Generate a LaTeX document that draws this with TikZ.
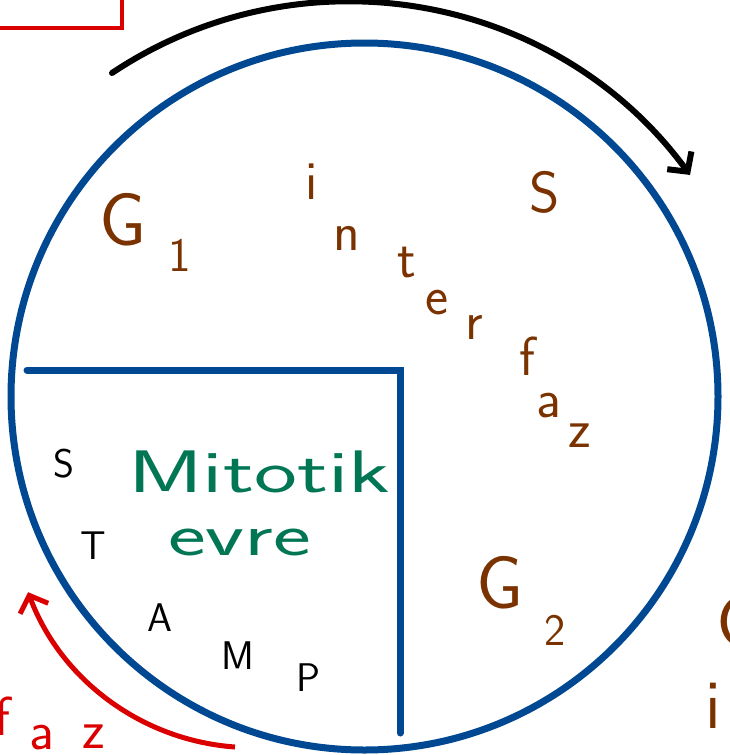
\documentclass[tikz,border=0pt]{standalone}
\usepackage{tikz}
\usetikzlibrary{arrows.meta}
\definecolor{cellblue}{RGB}{0,72,145}
\definecolor{phasebrown}{RGB}{122,50,0}
\definecolor{mitgreen}{RGB}{0,118,84}
\definecolor{markred}{RGB}{218,0,0}
\newcommand{\handsize}[1]{\sffamily\fontsize{#1}{#1}\selectfont}

\begin{document}
\begin{tikzpicture}[x=1pt,y=-1pt]
          \tikzstyle{ring}=[draw=cellblue,line width=7pt]
          \tikzstyle{phase}=[text=phasebrown,inner sep=0pt]
          \tikzstyle{stage}=[text=black,inner sep=0pt,font=\handsize{40}]
          \tikzstyle{flow}=[line width=6pt,-{Straight Barb[length=14pt,width=30pt]}]
          \useasboundingbox (0,0) rectangle (729,755);
          \clip (0,0) rectangle (729,755);
          % cycle and mitosis corner
          \node[circle,ring,minimum size=707pt,inner sep=0pt] (cycle) at (364.5,396.5) {};
          \coordinate (sqL) at (27,370);
          \coordinate (sqC) at (400,370);
          \coordinate (sqB) at (400,733);
          \draw[ring,line cap=round] (sqL) -- (sqC) -- (sqB);
          % red box
          \coordinate (boxL) at (-4,28);
          \coordinate (boxC) at (122,28);
          \coordinate (boxT) at (122,-4);
          \draw[markred,line width=4pt] (boxL) -- (boxC) -- (boxT);
          % arrows
          \coordinate (cwS) at (112,73);
          \coordinate (ccwS) at (235,747);
          \draw[flow,line cap=round] (cwS) arc[start angle=-123.7,end angle=-36.3,radius=424.8];
          \draw[flow,markred,line width=5pt] (ccwS) arc[start angle=94.1,end angle=159.5,radius=239.2];
          % interphase
          \node[phase,font=\handsize{75}] (g1) at (123,220) {G};
          \node[phase,font=\handsize{48}] (g1i) at (180,255) {1};
          \node[phase,font=\handsize{58}] (s) at (545,192) {S};
          \node[phase,font=\handsize{75}] (g2) at (500,583) {G};
          \node[phase,font=\handsize{45}] (g2i) at (555,630) {2};
          \foreach \ch/\px/\py [count=\k] in {i/312/182,n/347/238,t/407/263,e/437/303,r/474/327,f/527/356,a/549/406,z/580/436}{
            \node[phase,font=\handsize{55}] (int\k) at (\px,\py) {\ch};
            }
          \node[phase,font=\handsize{75},anchor=west] (gR) at (716,622) {G};
          \node[phase,font=\handsize{70}] (iR) at (713,706) {i};
          % mitosis
          \node[text=mitgreen,inner sep=0pt,anchor=base west,font=\handsize{60}] (mit) at (128,492) {\scalebox{1.52}[1]{Mitotik}};
          \node[text=mitgreen,inner sep=0pt,anchor=base west,font=\handsize{60}] (evre) at (168,555) {\scalebox{1.5}[1]{evre}};
          \foreach \ch/\px/\py in {S/64/464,T/93/546,A/160/618,M/238/656,P/308/678}{
            \node[stage] (st\ch) at (\px,\py) {\ch};
            }
          \foreach \ch/\px/\py in {f/2/716,a/42/738,z/94/737}{
            \node[text=markred,inner sep=0pt,font=\handsize{55}] (faz\ch) at (\px,\py) {\ch};
            }
        \end{tikzpicture}
\end{document}
